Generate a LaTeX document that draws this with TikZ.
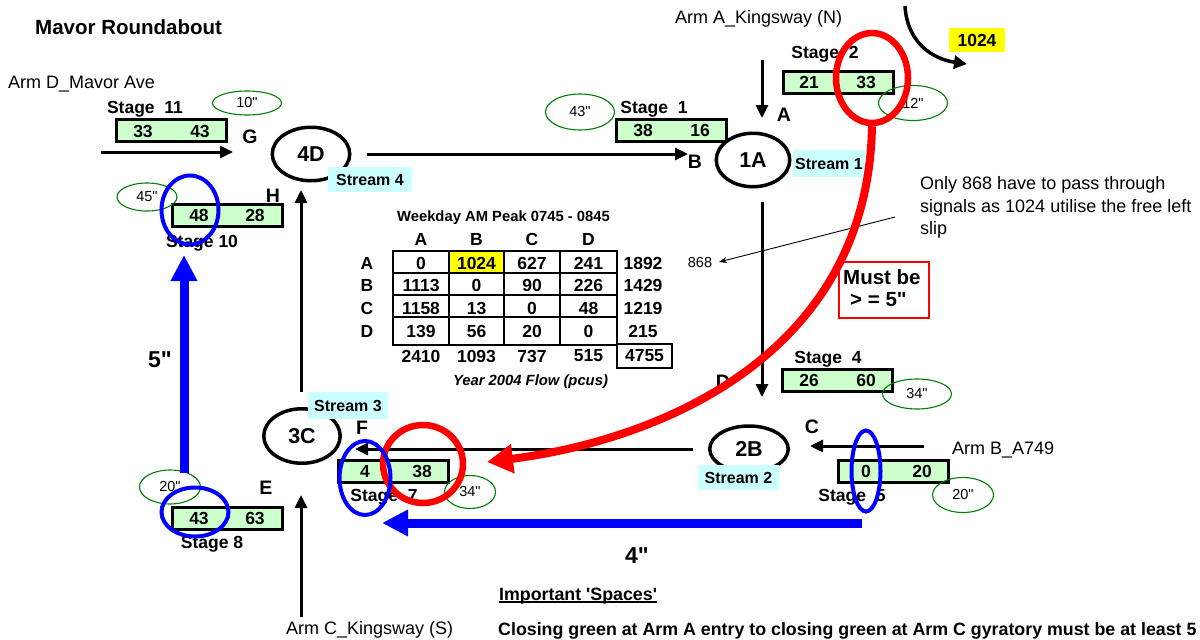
\documentclass[tikz,border=0pt]{standalone}
\usepackage{fontspec}
\setmainfont{Liberation Sans}[Ligatures=TeXOff]
\usetikzlibrary{arrows.meta,shapes.geometric}
\definecolor{stgreen}{HTML}{CCFFCC}
\definecolor{cyanbg}{HTML}{CCFFFF}
\definecolor{tgreen}{HTML}{008000}
\definecolor{yel}{HTML}{FFFF00}
\definecolor{rd}{HTML}{FF0000}
\definecolor{blu}{HTML}{0000FF}
\begin{document}
\begin{tikzpicture}[x=1pt,y=-1pt,
  txt/.style={inner sep=0pt, font=\fontsize{18}{21}\selectfont},
  bnum/.style={inner sep=0pt, font=\bfseries\fontsize{17.5}{20}\selectfont},
  stagelbl/.style={inner sep=0pt, anchor=base, font=\bfseries\fontsize{17.5}{20}\selectfont},
  letter/.style={inner sep=0pt, font=\bfseries\fontsize{19.5}{22}\selectfont},
  rbt/.style={draw, ellipse, line width=3.5pt, inner sep=0pt, font=\bfseries\fontsize{21.5}{24}\selectfont},
  stagebox/.style={draw, line width=3pt, fill=stgreen, minimum width=110pt, minimum height=22pt, inner sep=0pt},
  streambox/.style={fill=cyanbg, inner sep=0pt, font=\bfseries\fontsize{16}{18}\selectfont},
  timeell/.style={draw=tgreen, ellipse, line width=1.1pt, inner sep=0pt, font=\fontsize{14.5}{16}\selectfont},
  blueell/.style={draw=blu, ellipse, line width=4pt, inner sep=0pt},
  redell/.style={draw=rd, ellipse, line width=6.5pt, inner sep=0pt},
  arr/.style={line width=3pt, -{Triangle[length=13pt,width=12pt]}},
  bluearr/.style={color=blu, line width=9pt, -{Triangle[length=26pt,width=25pt]}},
  cell/.style={inner sep=0pt, font=\bfseries\fontsize{17.5}{20}\selectfont},
  tline/.style={line width=2.5pt},
  bigb/.style={inner sep=0pt, font=\bfseries\fontsize{23}{26}\selectfont},
  mustf/.style={inner sep=0pt, font=\bfseries\fontsize{20.5}{24}\selectfont},
  notef/.style={inner sep=0pt, font=\bfseries\fontsize{17.8}{21}\selectfont},
]
\useasboundingbox (0,0) rectangle (1200,640);
\fill[white] (0,0) rectangle (1200,640);

% ---------- texts ----------
\node[inner sep=0pt, anchor=base west, font=\bfseries\fontsize{20.5}{24}\selectfont] (title) at (35,34.3) {Mavor Roundabout};
\node[txt, anchor=base west] (armD) at (8,88.5) {Arm D\_Mavor Ave};
\node[txt, anchor=base west] (armA) at (675,23.5) {Arm A\_Kingsway (N)};
\node[txt, anchor=base west] (armB) at (952,454.5) {Arm B\_A749};
\node[txt, anchor=base west] (armC) at (286,634.5) {Arm C\_Kingsway (S)};
\node[txt, anchor=base west] (only1) at (920,189.5) {Only 868 have to pass through};
\node[txt, anchor=base west] (only2) at (920,212) {signals as 1024 utilise the free left};
\node[txt, anchor=base west] (only3) at (920,234.5) {slip};
\node[inner sep=0pt, font=\fontsize{14.5}{16}\selectfont] (n868) at (700,263) {868};
\node[fill=yel, minimum width=56pt, minimum height=24pt, inner sep=0pt, font=\bfseries\fontsize{17.5}{20}\selectfont] (y1024) at (977,40) {1024};

% ---------- table ----------
\node[inner sep=0pt, anchor=base, font=\bfseries\fontsize{14.8}{17}\selectfont] (peak) at (503.5,221.3) {Weekday AM Peak 0745 - 0845};
\fill[yel] (449,251) rectangle (504,273);
\draw[tline] (393,251) rectangle (617,345);
\draw[tline] (449,251) -- (449,345);
\draw[tline] (504,251) -- (504,345);
\draw[tline] (560,251) -- (560,345);
\draw[tline] (393,273) -- (617,273);
\draw[tline] (393,295) -- (617,295);
\draw[tline] (393,317) -- (617,317);
\draw[tline] (617,344) rectangle (672,368);
\foreach \h/\x in {A/421,B/476.5,C/532,D/588.5}
  \node[cell] (h\h) at (\x,239) {\h};
\foreach \r/\y/\a/\b/\c/\d/\t in {A/263/0/1024/627/241/1892, B/285.5/1113/0/90/226/1429, C/308/1158/13/0/48/1219, D/331/139/56/20/0/215}{
  \node[cell] (row\r) at (367,\y) {\r};
  \node[cell] (c\r1) at (421,\y) {\a};
  \node[cell] (c\r2) at (476.5,\y) {\b};
  \node[cell] (c\r3) at (532,\y) {\c};
  \node[cell] (c\r4) at (588.5,\y) {\d};
  \node[cell] (c\r5) at (643,\y) {\t};
}
\foreach \v/\x [count=\i] in {2410/421,1093/476.5,737/532,515/588.5}
  \node[cell] (sum\i) at (\x,356) {\v};
\node[cell] (tot) at (644.5,356) {4755};
\node[inner sep=0pt, anchor=base, font=\bfseries\itshape\fontsize{14.8}{17}\selectfont] (year) at (530.5,385.3) {Year 2004 Flow (pcus)};

% ---------- stage boxes ----------
\node[stagebox] (s11) at (171.5,130.5) {};
\node[bnum] (s11a) at (143,131) {33};
\node[bnum] (s11b) at (200,131) {43};
\node[stagelbl] (s11l) at (145,113.2) {Stage~~11};

\node[stagebox] (s1) at (671.5,130) {};
\node[bnum] (s1a) at (643,130) {38};
\node[bnum] (s1b) at (700,130) {16};
\node[stagelbl] (s1l) at (654,113.2) {Stage~~1};

\node[stagebox] (s2) at (838.5,82.5) {};
\node[bnum] (s2a) at (809,82.5) {21};
\node[bnum] (s2b) at (866,82.5) {33};
\node[stagelbl] (s2l) at (825,58.2) {Stage~~2};

\node[stagebox] (s4) at (837.5,380) {};
\node[bnum] (s4a) at (809,380) {26};
\node[bnum] (s4b) at (866,380) {60};
\node[stagelbl] (s4l) at (828,363.2) {Stage~~4};

\node[stagebox] (s5) at (893.5,471.5) {};
\node[bnum] (s5a) at (866,471.5) {0};
\node[bnum] (s5b) at (922,471.5) {20};
\node[stagelbl] (s5l) at (852,501.2) {Stage~~5};

\node[stagebox] (s7) at (393.5,471) {};
\node[bnum] (s7a) at (365,471) {4};
\node[bnum] (s7b) at (422,471) {38};
\node[stagelbl] (s7l) at (384,501.2) {Stage~~7};

\node[stagebox] (s8) at (227,518.5) {};
\node[bnum] (s8a) at (199,518.5) {43};
\node[bnum] (s8b) at (255,518.5) {63};
\node[stagelbl] (s8l) at (212,548.2) {Stage 8};

\node[stagebox] (s10) at (227,215) {};
\node[bnum] (s10a) at (199,215) {48};
\node[bnum] (s10b) at (255,215) {28};
\node[stagelbl] (s10l) at (202,247.2) {Stage 10};

% ---------- letters ----------
\node[letter] (lG) at (250,137) {G};
\node[letter] (lH) at (273,196) {H};
\node[letter] (lA) at (784,115) {A};
\node[letter] (lB) at (695,162) {B};
\node[letter] (lD) at (723,382) {D};
\node[letter] (lC) at (812,427) {C};
\node[letter] (lF) at (362,428) {F};
\node[letter] (lE) at (266,488) {E};

% ---------- roundabout nodes ----------
\node[rbt, minimum width=77.5pt, minimum height=53.5pt] (n4D) at (311,154) {4D};
\node[rbt, minimum width=73.5pt, minimum height=53.5pt] (n1A) at (753,160) {1A};
\node[rbt, minimum width=78.5pt, minimum height=46pt] (n2B) at (749,449) {2B};
\node[rbt, minimum width=76.5pt, minimum height=54.5pt] (n3C) at (302,436) {3C};

\node[streambox, minimum width=84pt, minimum height=25pt] (st4) at (370,179.5) {Stream 4};
\node[streambox, minimum width=72pt, minimum height=27pt] (st1) at (829,163.5) {Stream 1};
\node[streambox, minimum width=81pt, minimum height=25pt] (st2) at (738.5,477.5) {Stream 2};
\node[streambox, minimum width=80pt, minimum height=27pt] (st3) at (348,405.5) {Stream 3};

% ---------- time ellipses ----------
\node[timeell, minimum width=69pt, minimum height=24pt] (t10) at (247,103) {10"};
\node[timeell, minimum width=60pt, minimum height=28pt] (t45) at (147,197) {45"};
\node[timeell, minimum width=69pt, minimum height=36pt] (t43) at (580,112) {43"};
\node[timeell, minimum width=69pt, minimum height=35pt] (t12) at (913,103) {12"};
\node[timeell, minimum width=69pt, minimum height=30pt] (t34a) at (917,394) {34"};
\node[timeell, minimum width=61pt, minimum height=35pt] (t20a) at (963,495) {20"};
\node[timeell, minimum width=51pt, minimum height=33pt] (t34b) at (470,492) {34"};
\node[timeell, minimum width=61pt, minimum height=34pt] (t20b) at (170,487) {20"};

% ---------- black arrows ----------
\coordinate (armDs) at (101,152);
\coordinate (armDe) at (233,152);
\coordinate (ab2) at (688,154);
\coordinate (armAs) at (762,60);
\coordinate (armAe) at (762,118);
\coordinate (ad1) at (762,202);
\coordinate (ad2) at (762,397);
\coordinate (armBs) at (924,446);
\coordinate (armBe) at (810,446);
\coordinate (bf2) at (355,449);
\coordinate (armCs) at (301,617);
\coordinate (armCe) at (301,495);
\coordinate (ch1) at (301,392);
\coordinate (ch2) at (301,190);
\draw[arr] (armDs) -- (armDe);
\draw[arr, shorten <=15.5pt] (n4D.east) -- (ab2);
\draw[arr] (armAs) -- (armAe);
\draw[arr] (ad1) -- (ad2);
\draw[arr] (armBs) -- (armBe);
\draw[arr, shorten <=15pt] (n2B.west) -- (bf2);
\draw[arr] (armCs) -- (armCe);
\draw[arr] (ch1) -- (ch2);

\coordinate (cv1) at (905,6);
\coordinate (cv2) at (967,64);
\draw[line width=3.5pt, -{Triangle[length=13pt,width=13pt]}] (cv1) .. controls (907,42) and (932,59) .. (cv2);

\coordinate (c868s) at (895,217);
\coordinate (c868t) at (719,262);
\draw[line width=0.9pt, -{Stealth[length=8pt,width=6pt]}] (c868s) -- (c868t);

% ---------- red marks ----------
\node[redell, minimum width=72pt, minimum height=90pt] (red1) at (872,78) {};
\node[redell, minimum width=80pt, minimum height=78pt] (red2) at (423,464) {};
\coordinate (redtip) at (487,462);
\draw[rd, line width=8pt, -{Triangle[length=26pt,width=28pt]}] (red1.south) .. controls (868,355) and (660,440) .. (redtip);
\node[draw=rd, line width=1.2pt, minimum width=90pt, minimum height=56pt, inner sep=0pt] (mustbox) at (884,290) {};
\node[mustf, anchor=west] (must1) at (843,277) {Must be};
\node[mustf, anchor=west] (must2) at (850,300) {> = 5"};

% ---------- blue marks ----------
\node[blueell, minimum width=57pt, minimum height=69pt] (b1) at (190,210) {};
\node[blueell, minimum width=67pt, minimum height=49pt] (b2) at (195,512) {};
\node[blueell, minimum width=51pt, minimum height=74pt] (b3) at (365,478) {};
\node[blueell, minimum width=29pt, minimum height=81pt] (b4) at (866,471) {};
\coordinate (bv1) at (184,473);
\coordinate (bv2) at (184,255);
\coordinate (bh1) at (862,523);
\coordinate (bh2) at (382,523);
\draw[bluearr] (bv1) -- (bv2);
\draw[bluearr] (bh1) -- (bh2);
\node[bigb] (five) at (160,360) {5"};
\node[bigb] (four) at (637,556) {4"};

% ---------- notes ----------
\node[notef, anchor=base west] (imp) at (499,600) {Important 'Spaces'};
\draw[line width=1.4pt] ([yshift=-2pt]imp.base west) -- ([yshift=-2pt]imp.base east);
\begin{scope}
\clip (0,0) rectangle (1200,640);
\node[notef, anchor=base west] (closing) at (498,635) {Closing green at Arm A entry to closing green at Arm C gyratory must be at least 5};
\end{scope}
\end{tikzpicture}
\end{document}
